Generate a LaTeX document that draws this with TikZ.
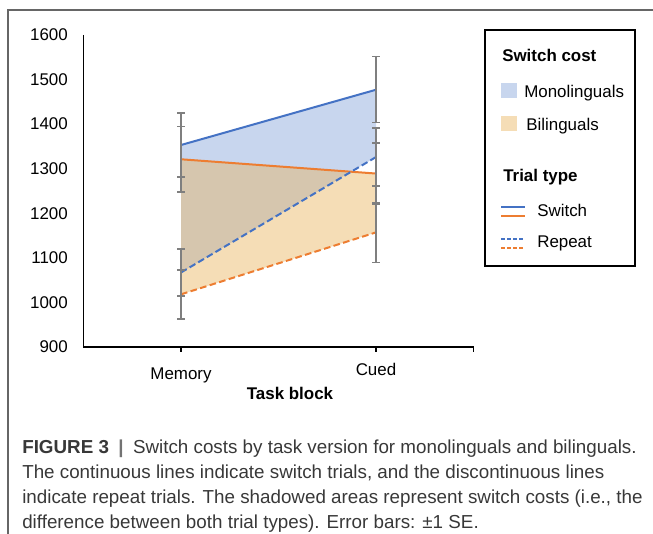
\documentclass[tikz,border=0pt]{standalone}
\usepackage{fontspec}
\setmainfont{Liberation Sans}

\definecolor{monoline}{HTML}{4472C4}
\definecolor{biline}{HTML}{ED7D31}
\definecolor{monofill}{HTML}{C8D6EE}
\definecolor{bifill}{HTML}{F5DDB6}
\definecolor{bothfill}{HTML}{D6C6AE}
\definecolor{errgray}{HTML}{7F7F7F}

\begin{document}
\begin{tikzpicture}
[x=0.75pt,y=-0.75pt,
%
lab/.style={inner sep=0pt,font=\fontsize{12.7}{15}\selectfont},
boldlab/.style={lab,font=\fontsize{12.7}{15}\selectfont\bfseries},
caption/.style={inner sep=0pt,anchor=base west,text=black!78,font=\fontsize{14.1}{18.75}\selectfont},
swatch/.style={shape=rectangle,inner sep=0pt,minimum width=12pt,minimum height=11.25pt},
%
axis/.style={draw=black,line width=1.1pt},
errbar/.style={draw=errgray,line width=1.1pt},
swline/.style={line width=1.5pt},
rpline/.style={line width=1.5pt,dash pattern=on 5pt off 2.5pt},
keyline/.style={line width=1.1pt},
keydash/.style={keyline,dash pattern=on 3pt off 1.5pt}]
%
\useasboundingbox (0,0) rectangle (653,534);
% page frame
\draw[black!60,line width=1pt] (653,10) -- (8,10) -- (8,534);
%%
% chart: x = task block (1 memory, 2 cued), y = RT in ms
\begin{scope}[shift={(-14,748.1)},x=146.25pt,y=0.3343pt]
\foreach \n/\a/\b in {mS/1353/1477,mR/1067/1326,bS/1321/1289,bR/1018/1157}{
   \coordinate (\n1) at (1,\a);
   \coordinate (\n2) at (2,\b);
}
%%
% switch cost areas
\fill[monofill] (mS1) -- (mS2) -- (mR2) -- (mR1) -- cycle;
\fill[bifill] (bS1) -- (bS2) -- (bR2) -- (bR1) -- cycle;
\begin{scope}
\clip (bS1) -- (bS2) -- (bR2) -- (bR1) -- cycle;
\fill[bothfill] (mS1) -- (mS2) -- (mR2) -- (mR1) -- cycle;
\end{scope}
%%
% axes
\draw[axis] (0.5,1600) -- (0.5,900) -- (2.5,900);
\foreach \c in {1,2,2.5}
   \draw[axis] (\c,900) -- +(0,-4pt);
\foreach \v in {900,1000,...,1600}
   \node (y\v) [lab,anchor=east,xshift=-11.6pt] at (0.5,\v) {\v};
%%
% trial type lines
\draw[swline,monoline] (mS1) -- (mS2);
\draw[swline,biline] (bS1) -- (bS2);
\draw[rpline,monoline] (mR1) -- (mR2);
\draw[rpline,biline] (bR1) -- (bR2);
%%
% error bars (+-1 SE)
\foreach \c/\v/\e in {1/1353/72,1/1321/73,1/1067/53,1/1018/55,2/1477/74,2/1289/68,2/1326/65,2/1157/67}{
   \draw[errbar] (\c,\v-\e) -- (\c,\v+\e);
   \draw[errbar] (\c,\v-\e) +(-3pt,0) -- +(3pt,0);
   \draw[errbar] (\c,\v+\e) +(-3pt,0) -- +(3pt,0);
}
\end{scope}
%%
% category labels
\node (memory) [lab,anchor=base] at (181,380) {Memory};
\node (cued) [lab,anchor=base] at (376,376) {Cued};
\node (block) [boldlab,anchor=base] at (290,399) {Task block};
%%
% legend
\draw[line width=1.1pt] (485,30) rectangle (635,266);
\node (kCost) [boldlab,anchor=base west] at (502,61.5) {Switch cost};
\node (kMonoBox) [swatch,fill=monofill,anchor=north west] at (501,83) {};
\node (kMono) [lab,anchor=base west] at (524,97.5) {Monolinguals};
\node (kBiBox) [swatch,fill=bifill,anchor=north west] at (501,116) {};
\node (kBi) [lab,anchor=base west] at (526,130.5) {Bilinguals};
\node (kType) [boldlab,anchor=base west] at (503,181.5) {Trial type};
\draw[keyline,monoline] (501,207) -- (525,207);
\draw[keyline,biline] (501,216) -- (525,216);
\node (kSw) [lab,anchor=base west] at (537,216.5) {Switch};
\draw[keydash,monoline] (501,239) -- (525,239);
\draw[keydash,biline] (501,248) -- (525,248);
\node (kRp) [lab,anchor=base west] at (537,247.5) {Repeat};
%%
% caption
\node (cap1) [caption] at (22,453) {\textbf{FIGURE 3}\enspace{\color{black!55}\textbf{|}}\enspace Switch costs by task version for monolinguals and bilinguals.};
\node (cap2) [caption] at (22,478) {The continuous lines indicate switch trials, and the discontinuous lines};
\node (cap3) [caption] at (22,503) {indicate repeat trials. The shadowed areas represent switch costs (i.e., the};
\node (cap4) [caption] at (22,528) {difference between both trial types). Error bars: ±1 SE.};
\end{tikzpicture}
\end{document}
